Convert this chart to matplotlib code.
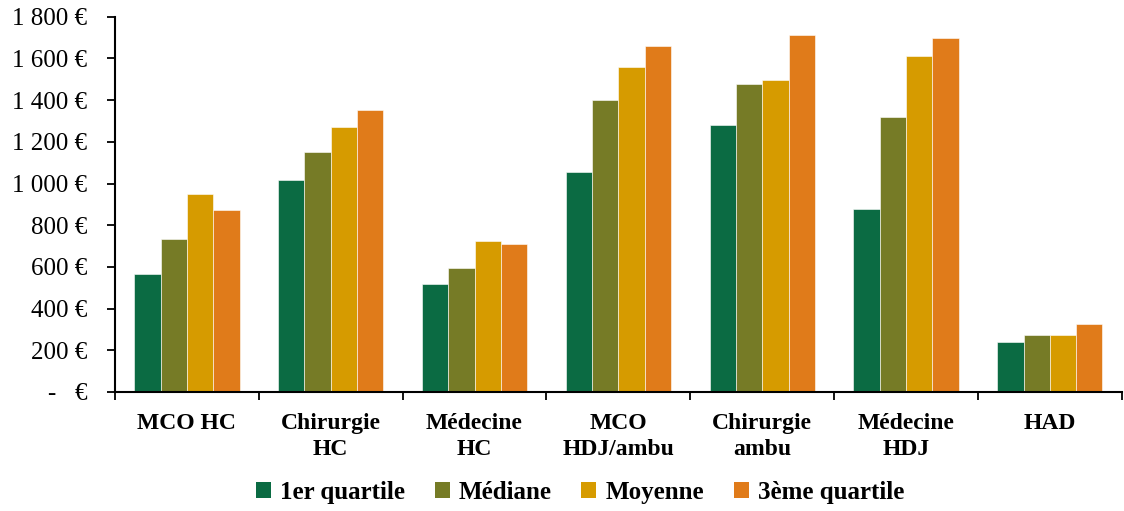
import numpy as np
import matplotlib.pyplot as plt
from matplotlib.patches import Patch

# cost per stay by activity type (euros)
categories = ["MCO HC", "Chirurgie\nHC", "Médecine\nHC", "MCO\nHDJ/ambu",
              "Chirurgie\nambu", "Médecine\nHDJ", "HAD"]
q1 = [565, 1019, 517, 1056, 1280, 877, 238]
mediane = [733, 1149, 594, 1400, 1475, 1317, 272]
moyenne = [949, 1271, 723, 1559, 1496, 1613, 271]
q3 = [871, 1352, 709, 1659, 1712, 1696, 325]

series_names = ["1er quartile", "Médiane", "Moyenne", "3ème quartile"]
colors = ["#0B6B43", "#767B26", "#D69B00", "#E07B1A"]

plt.rcParams['font.family'] = ['Liberation Serif', 'DejaVu Serif']

fig = plt.figure(figsize=(11.24, 5.11), dpi=100)
ax = fig.add_axes([0.1023, 0.2329, 0.8957, 0.7344])

x = np.arange(len(categories))
width = 0.183
for i, (vals, c) in enumerate(zip([q1, mediane, moyenne, q3], colors)):
    ax.bar(x + (i - 1.5) * width, vals, width, color=c,
           edgecolor="white", linewidth=0.4)

ax.set_xlim(-0.5, len(categories) - 0.5)
ax.set_ylim(0, 1800)
ax.set_yticks(np.arange(0, 1801, 200))


def euro(v, pos=None):
    v = int(round(v))
    if v == 0:
        return "-   €"
    return f"{v:,}".replace(",", " ") + " €"


ax.yaxis.set_major_formatter(plt.FuncFormatter(euro))
ax.tick_params(axis="y", labelsize=18, length=6, width=1.3, pad=14)

# labels at group centres, tick marks at group boundaries
ax.set_xticks(x)
ax.set_xticklabels(categories, fontsize=17, fontweight="bold",
                   linespacing=1.32)
ax.set_xticks(np.arange(-0.5, len(categories) - 0.4, 1), minor=True)
ax.tick_params(axis="x", which="major", length=0, pad=15)
ax.tick_params(axis="x", which="minor", length=6, width=1.3)

for side in ["top", "right"]:
    ax.spines[side].set_visible(False)
for side in ["left", "bottom"]:
    ax.spines[side].set_linewidth(1.5)

handles = [Patch(facecolor=c, label=n) for c, n in zip(colors, series_names)]
fig.legend(handles=handles, loc="lower center", bbox_to_anchor=(0.516, -0.03),
           ncol=4, frameon=False, prop={"size": 18, "weight": "bold"},
           handlelength=0.6, handleheight=0.6, handletextpad=0.35,
           columnspacing=1.2)

fig.savefig("out.png", dpi=100)
